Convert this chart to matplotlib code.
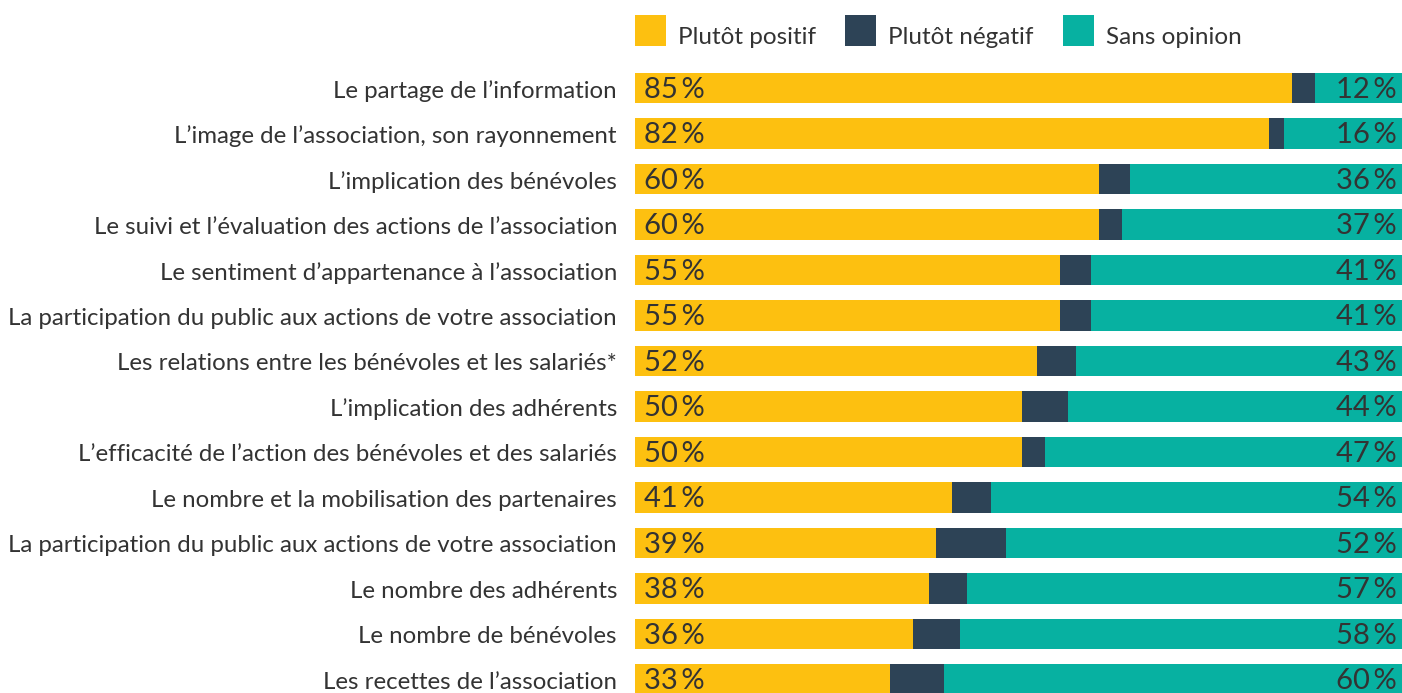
import matplotlib
matplotlib.use("Agg")
import matplotlib.pyplot as plt
from matplotlib.patches import Rectangle
import matplotlib.transforms as mtransforms

plt.rcParams['font.family'] = ['Lato', 'DejaVu Sans']

categories = [
    "Le partage de l\u2019information",
    "L\u2019image de l\u2019association, son rayonnement",
    "L\u2019implication des bénévoles",
    "Le suivi et l\u2019évaluation des actions de l\u2019association",
    "Le sentiment d\u2019appartenance à l\u2019association",
    "La participation du public aux actions de votre association",
    "Les relations entre les bénévoles et les salariés*",
    "L\u2019implication des adhérents",
    "L\u2019efficacité de l\u2019action des bénévoles et des salariés",
    "Le nombre et la mobilisation des partenaires",
    "La participation du public aux actions de votre association",
    "Le nombre des adhérents",
    "Le nombre de bénévoles",
    "Les recettes de l\u2019association",
]
positif = [85, 82, 60, 60, 55, 55, 52, 50, 50, 41, 39, 38, 36, 33]
negatif = [3, 2, 4, 3, 4, 4, 5, 6, 3, 5, 9, 5, 6, 7]
sans_opinion = [12, 16, 36, 37, 41, 41, 43, 44, 47, 54, 52, 57, 58, 60]
series_names = ["Plutôt positif", "Plutôt négatif", "Sans opinion"]
colors = ["#FDC010", "#2D4356", "#07B1A1"]
text_color = "#333333"

W, H = 1402, 693
fig = plt.figure(figsize=(W / 100, H / 100), dpi=100)
left = 635 / W
right = (635 + 773) / W
ax = fig.add_axes([left, 0, right - left, 1])

n = len(categories)
y = list(range(n))
row_px = 45.5
top_center = 88
ylim_top = -top_center / row_px
ylim_bot = (n - 1) + (H - (top_center + (n - 1) * row_px)) / row_px
ax.set_ylim(ylim_bot, ylim_top)
ax.set_xlim(0, 100)

bh = 0.67
ax.barh(y, positif, height=bh, color=colors[0], linewidth=0)
ax.barh(y, negatif, left=positif, height=bh, color=colors[1], linewidth=0)
lefts = [p + q for p, q in zip(positif, negatif)]
ax.barh(y, sans_opinion, left=lefts, height=bh, color=colors[2], linewidth=0)

ax.set_axis_off()

trans_fig_x = mtransforms.blended_transform_factory(fig.transFigure, ax.transData)
for i in range(n):
    ax.text(644 / W, i + 0.04, f"{positif[i]}\u2009%", transform=trans_fig_x,
            ha="left", va="center", fontsize=21, color=text_color)
    ax.text(1397 / W, i + 0.04, f"{sans_opinion[i]}\u2009%", transform=trans_fig_x,
            ha="right", va="center", fontsize=21, color=text_color)
    ax.text(617 / W, i + 0.06, categories[i], transform=trans_fig_x,
            ha="right", va="center", fontsize=17.3, color=text_color)

# legend
leg_x = [635, 845, 1063]
for lx, name, c in zip(leg_x, series_names, colors):
    fig.patches.append(Rectangle((lx / W, 1 - 46 / H), 31 / W, 31 / H,
                                 transform=fig.transFigure, color=c, lw=0))
    fig.text((lx + 43) / W, 1 - 38 / H, name, ha="left", va="center",
             fontsize=17.5, color=text_color)

fig.savefig("out.png", dpi=100)
